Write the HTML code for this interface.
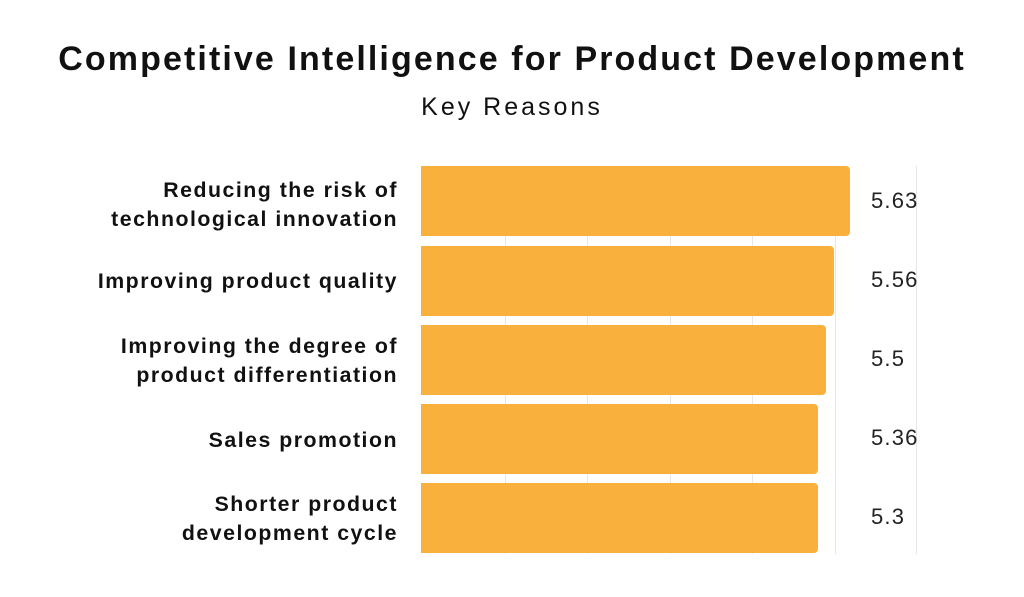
<!DOCTYPE html>
<html><head><meta charset="utf-8"><style>
body{margin:0;width:1024px;height:597px;background:#fff;font-family:"Liberation Sans",sans-serif;position:relative;overflow:hidden}
.t{position:absolute;left:0;width:1024px;text-align:center;color:#111}
.g{position:absolute;top:166px;height:388px;width:1px;background:#e6e6e6}
.b{position:absolute;left:421px;height:70px;background:#f9b03d;border-radius:0 4px 4px 0}
.l{position:absolute;right:626px;text-align:right;font-weight:bold;font-size:21.3px;line-height:29px;color:#111;letter-spacing:1.5px;white-space:nowrap}
.v{position:absolute;left:871px;font-size:22px;color:#222;letter-spacing:1.2px}
</style></head><body>
<div class="t" style="top:40px;font-size:34px;font-weight:bold;letter-spacing:2.1px">Competitive Intelligence for Product Development</div>
<div class="t" style="top:93px;font-size:25px;letter-spacing:3px">Key Reasons</div>
<div class="g" style="left:505px"></div><div class="g" style="left:587px"></div><div class="g" style="left:670px"></div><div class="g" style="left:752px"></div><div class="g" style="left:835px"></div><div class="g" style="left:916px"></div>
<div class="b" style="top:166px;width:429px"></div>
<div class="b" style="top:246px;width:413px"></div>
<div class="b" style="top:325px;width:405px"></div>
<div class="b" style="top:404px;width:397px"></div>
<div class="b" style="top:483px;width:397px"></div>
<div class="l" style="top:176px">Reducing the risk of<br>technological innovation</div>
<div class="l" style="top:267px">Improving product quality</div>
<div class="l" style="top:332px">Improving the degree of<br>product differentiation</div>
<div class="l" style="top:426px">Sales promotion</div>
<div class="l" style="top:490px">Shorter product<br>development cycle</div>
<div class="v" style="top:188px">5.63</div>
<div class="v" style="top:267px">5.56</div>
<div class="v" style="top:346px">5.5</div>
<div class="v" style="top:425px">5.36</div>
<div class="v" style="top:504px">5.3</div>
</body></html>
